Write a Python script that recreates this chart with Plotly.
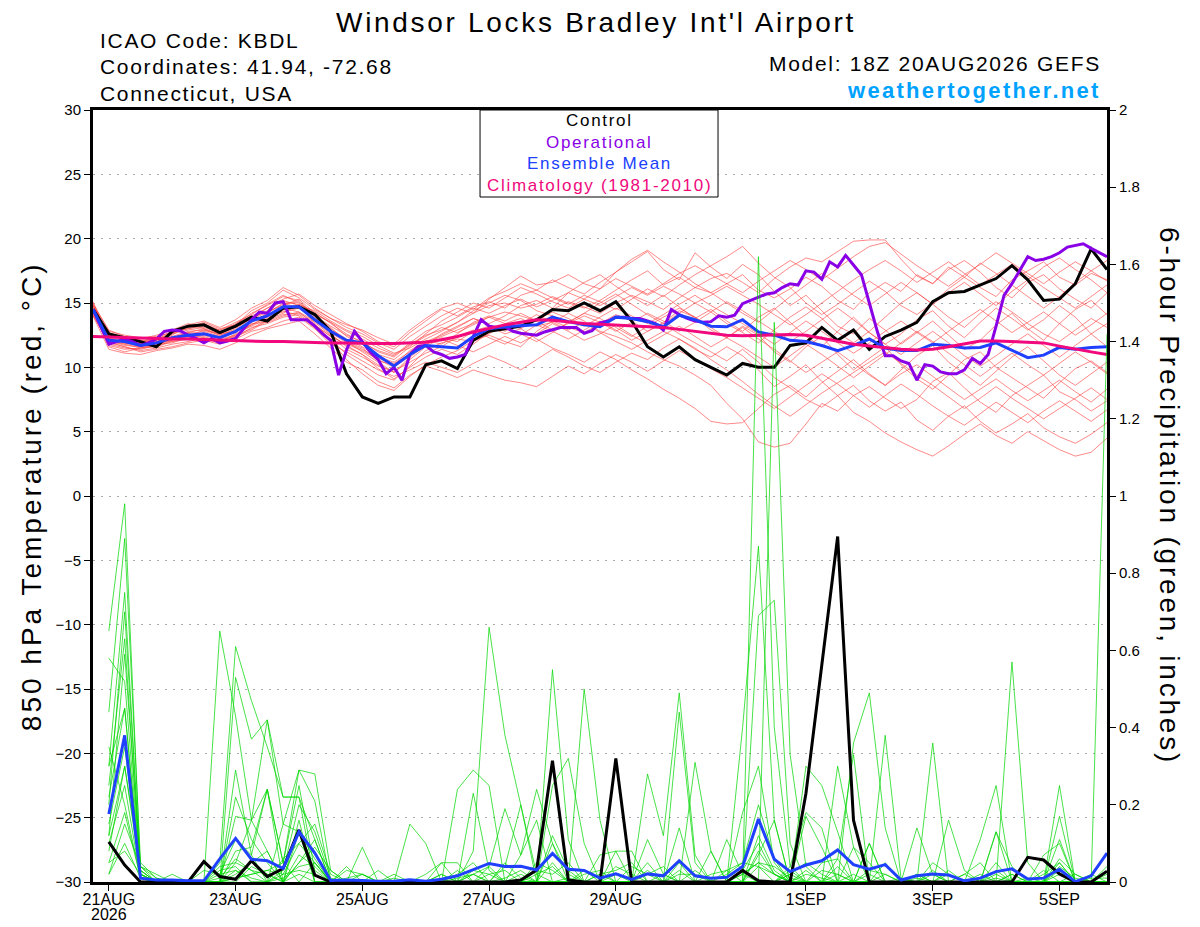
import pandas as pd
import plotly.graph_objects as go

# time axes: 6-hourly ensemble, 3-hourly operational
t6 = pd.date_range("2026-08-20 18:00", periods=65, freq="6h")
t3 = pd.date_range("2026-08-20 18:00", periods=129, freq="3h")
tp = t6[1:]  # precipitation starts at the first 6h step

tick_dates = ["2026-08-21", "2026-08-23", "2026-08-25", "2026-08-27",
              "2026-08-29", "2026-09-01", "2026-09-03", "2026-09-05"]
tick_text = ["21AUG", "23AUG", "25AUG", "27AUG", "29AUG", "1SEP", "3SEP", "5SEP"]
year_label = "2026"

# 850 hPa temperature (C)
control_t = [14.5, 12.6, 12.3, 12.0, 11.6, 12.8, 13.2, 13.3, 12.7, 13.2,
             13.9, 13.6, 14.6, 14.7, 14.1, 12.8, 9.5, 7.7, 7.2, 7.7,
             7.7, 10.2, 10.5, 9.9, 12.1, 12.8, 13.0, 13.2, 13.7, 14.5,
             14.4, 15.0, 14.4, 15.1, 13.6, 11.6, 10.8, 11.6, 10.6, 10.0,
             9.4, 10.3, 10.0, 10.0, 11.7, 11.9, 13.1, 12.1, 12.9, 11.4,
             12.4, 12.9, 13.5, 15.1, 15.8, 15.9, 16.4, 16.9, 17.9, 16.8,
             15.2, 15.3, 16.5, 19.2, 17.6]
mean_t = [14.5, 12.1, 12.0, 11.7, 11.9, 12.3, 12.5, 12.6, 12.3, 12.8,
          13.6, 14.0, 14.7, 14.7, 13.7, 12.8, 12.1, 11.9, 10.9, 10.1,
          11.0, 11.7, 11.6, 11.5, 12.4, 13.0, 13.15, 13.2, 13.3, 13.9,
          13.55, 13.3, 13.15, 13.9, 13.8, 13.55, 13.15, 14.05, 13.7, 13.2,
          13.15, 13.7, 12.75, 12.5, 12.1, 12.0, 11.7, 11.3, 11.7, 12.2,
          11.5, 11.3, 11.3, 11.8, 11.7, 11.5, 11.55, 11.9, 11.35, 10.75,
          10.95, 11.55, 11.4, 11.55, 11.6]
clim_t = [12.4, 12.35, 12.3, 12.3, 12.25, 12.2, 12.2, 12.15, 12.1, 12.05,
          12.05, 12.0, 12.0, 11.95, 11.95, 11.9, 11.9, 11.85, 11.85, 11.85,
          11.9, 11.95, 12.15, 12.4, 12.75, 13.05, 13.3, 13.5, 13.7, 13.65,
          13.5, 13.4, 13.35, 13.3, 13.25, 13.2, 13.1, 12.95, 12.8, 12.6,
          12.5, 12.45, 12.5, 12.55, 12.55, 12.5, 12.25, 12.0, 11.8, 11.65,
          11.5, 11.4, 11.35, 11.4, 11.6, 11.85, 12.05, 12.05, 12.0, 11.95,
          11.9, 11.65, 11.4, 11.2, 11.0]
oper_t = [14.5, 13.2, 11.8, 12.0, 12.2, 12.0, 11.7, 11.9, 12.2, 12.8,
          12.9, 12.85, 12.5, 12.25, 11.9, 12.25, 11.9, 12.05, 12.25, 13.0,
          13.7, 14.3, 14.2, 15.0, 15.1, 13.7, 13.7, 13.7, 13.2, 12.6,
          12.1, 9.4, 11.35, 12.8, 12.0, 11.2, 10.6, 9.5, 10.0, 9.0,
          11.0, 11.6, 11.7, 11.2, 11.0, 10.7, 10.8, 11.0, 12.4, 13.7,
          13.2, 13.1, 13.15, 12.8, 12.65, 12.6, 12.5, 12.75, 12.95, 13.1,
          13.1, 13.1, 12.65, 12.85, 13.45, 13.6, 13.9, 13.9, 13.8, 13.8,
          13.6, 13.4, 12.9, 14.5, 14.1, 13.8, 13.6, 13.5, 13.55, 14.0,
          13.9, 14.05, 14.95, 15.2, 15.5, 15.7, 15.8, 16.2, 16.5, 16.4,
          17.5, 17.4, 16.85, 18.2, 17.8, 18.7, 17.95, 17.2, 15.0, 12.8,
          10.9, 10.9, 10.5, 10.3, 9.0, 10.2, 10.1, 9.65, 9.5, 9.5,
          9.8, 10.7, 10.3, 11.0, 13.2, 15.6, 16.5, 17.55, 18.6, 18.3,
          18.4, 18.6, 18.9, 19.35, 19.45, 19.6, 19.25, 18.9, 18.6]

# ensemble members, temperature
t01 = [14.8, 12.5, 12.2, 12.0, 12.3, 12.8, 13.0, 13.2, 12.9, 13.3, 14.2, 14.8, 15.5, 15.2, 14.0, 13.2, 12.5, 12.0, 11.2, 10.8,
       11.8, 12.5, 12.9, 13.5, 14.2, 14.8, 15.0, 14.6, 14.9, 15.5, 15.0, 14.6, 15.2, 16.0, 16.8, 17.5, 16.4, 17.0, 16.2, 15.8,
       16.5, 17.2, 16.0, 15.4, 16.1, 17.0, 16.3, 15.2, 14.5, 15.8, 16.6, 15.9, 17.2, 16.5, 17.8, 17.0, 16.2, 15.5, 16.8, 17.5,
       18.2, 17.0, 16.4, 17.3, 16.8]
t02 = [14.2, 11.8, 11.5, 11.4, 11.7, 12.2, 12.6, 12.4, 12.0, 12.6, 13.2, 13.8, 14.4, 14.0, 13.1, 12.2, 11.0, 10.2, 9.4, 9.0,
       10.1, 11.3, 11.9, 12.2, 12.0, 12.6, 13.4, 13.8, 13.2, 13.5, 14.2, 13.6, 12.8, 12.4, 11.9, 11.2, 10.6, 10.1, 9.4, 8.6,
       7.2, 6.0, 4.2, 3.8, 4.1, 5.6, 7.2, 6.6, 7.8, 8.5, 7.6, 6.8, 7.5, 8.9, 9.6, 8.4, 7.3, 6.5, 7.8, 8.6,
       9.4, 8.1, 7.5, 6.6, 7.4]
t03 = [14.9, 12.9, 12.4, 12.1, 12.0, 12.5, 13.3, 13.6, 13.1, 13.7, 14.6, 15.2, 16.2, 15.6, 14.6, 13.8, 13.1, 12.6, 11.9, 11.4,
       12.4, 13.2, 14.0, 14.6, 14.2, 15.3, 16.2, 17.1, 16.4, 16.6, 17.2, 16.5, 16.1, 17.4, 18.2, 19.0, 17.6, 16.8, 18.9, 17.8,
       16.9, 18.0, 17.2, 15.9, 14.8, 15.6, 14.4, 13.2, 12.6, 13.8, 12.9, 11.8, 12.7, 13.6, 12.5, 11.4, 12.1, 13.3, 14.2, 13.0,
       12.1, 13.4, 14.5, 15.2, 14.1]
t04 = [14.4, 11.6, 11.2, 11.5, 11.8, 11.9, 12.3, 12.7, 12.2, 12.5, 13.0, 13.7, 14.2, 14.9, 13.4, 12.1, 10.6, 9.5, 8.6, 8.2,
       9.3, 10.2, 10.8, 11.3, 12.1, 12.5, 12.0, 11.6, 12.8, 13.6, 13.1, 12.7, 13.4, 14.1, 13.6, 12.8, 13.5, 14.4, 13.9, 12.9,
       12.3, 13.2, 12.5, 11.2, 10.4, 11.6, 12.4, 11.0, 9.8, 10.7, 11.6, 10.2, 9.1, 8.3, 9.4, 10.6, 11.2, 10.0, 9.2, 8.4,
       7.6, 8.8, 9.9, 10.5, 9.6]
t05 = [15.1, 12.3, 11.9, 11.8, 12.0, 12.4, 12.8, 12.9, 12.6, 13.1, 13.9, 14.3, 14.8, 15.3, 14.2, 13.5, 12.8, 12.2, 11.5, 11.0,
       11.7, 12.4, 13.1, 12.7, 13.3, 13.9, 14.3, 14.0, 13.6, 14.5, 15.1, 14.7, 14.2, 15.0, 15.6, 15.1, 14.5, 15.4, 16.2, 16.9,
       17.3, 16.6, 15.8, 16.9, 17.8, 18.5, 18.2, 19.0, 19.8, 19.9, 19.9, 18.4, 17.1, 16.5, 17.6, 18.3, 17.4, 16.2, 15.4, 16.6,
       17.2, 16.1, 15.3, 14.6, 15.8]
t06 = [14.0, 12.0, 11.6, 11.2, 11.4, 11.6, 11.9, 12.1, 11.8, 12.2, 12.8, 13.1, 13.6, 13.9, 13.0, 11.8, 11.2, 10.5, 9.8, 9.3,
       9.8, 10.4, 10.0, 9.6, 10.3, 10.9, 10.4, 9.8, 10.6, 11.4, 10.8, 10.1, 9.6, 10.4, 11.1, 10.6, 11.5, 12.2, 11.4, 10.8,
       11.6, 10.9, 9.8, 8.5, 9.3, 10.2, 8.9, 7.8, 8.6, 7.4, 6.6, 7.3, 5.9, 5.1, 6.2, 7.0, 5.8, 4.9, 5.6, 6.4,
       5.3, 4.6, 4.1, 4.8, 5.7]
t07 = [14.6, 12.4, 12.0, 11.7, 11.6, 12.1, 12.4, 12.9, 12.5, 12.9, 13.5, 14.2, 15.0, 14.6, 13.9, 13.0, 12.2, 11.6, 10.8, 10.4,
       11.2, 12.0, 12.5, 13.1, 13.8, 13.4, 14.0, 14.8, 15.2, 14.6, 15.8, 16.6, 17.2, 16.3, 15.5, 14.8, 15.6, 14.7, 13.8, 14.5,
       13.6, 12.8, 13.9, 14.6, 13.5, 12.4, 11.6, 12.8, 13.9, 12.7, 11.8, 12.6, 13.7, 14.4, 13.2, 12.3, 13.5, 14.6, 13.8, 12.9,
       13.7, 14.8, 13.9, 12.6, 13.4]
t08 = [14.3, 12.2, 11.8, 11.9, 12.2, 12.0, 12.2, 12.5, 12.1, 12.4, 13.4, 13.5, 14.0, 14.3, 13.6, 12.6, 11.6, 11.0, 10.2, 9.6,
       10.6, 11.6, 12.3, 12.0, 12.8, 13.2, 12.6, 13.0, 12.2, 11.5, 11.0, 10.4, 11.2, 10.6, 9.8, 9.1, 8.3, 7.6, 6.8, 5.8,
       5.6, 5.7, 6.8, 7.9, 8.6, 7.7, 8.8, 9.7, 10.6, 9.5, 8.6, 9.8, 10.9, 11.7, 10.4, 9.5, 8.6, 9.7, 10.8, 11.6,
       10.5, 9.4, 8.6, 9.5, 10.4]
t09 = [14.7, 12.7, 12.3, 11.9, 12.1, 12.6, 12.9, 13.1, 12.7, 13.4, 14.0, 14.6, 15.3, 15.7, 14.8, 14.1, 13.4, 12.8, 12.0, 11.6,
       12.7, 13.6, 14.5, 14.0, 14.7, 15.1, 14.6, 15.6, 16.0, 15.4, 14.9, 15.6, 15.1, 14.5, 15.3, 16.1, 15.5, 16.4, 17.2, 17.9,
       18.6, 19.4, 18.1, 17.0, 16.2, 15.0, 14.1, 14.9, 15.8, 16.7, 15.9, 14.8, 14.1, 15.0, 16.1, 17.0, 18.1, 17.3, 16.4, 15.5,
       14.6, 15.5, 16.6, 17.5, 18.3]
t10 = [14.1, 11.9, 11.6, 11.3, 11.5, 11.8, 12.0, 12.3, 11.9, 12.3, 13.1, 13.4, 13.9, 14.1, 13.3, 12.4, 11.4, 10.8, 10.1, 9.7,
       10.4, 11.1, 11.6, 12.4, 12.9, 12.3, 11.8, 12.5, 13.3, 12.8, 12.2, 12.9, 13.6, 12.9, 12.1, 12.8, 13.4, 12.6, 11.9, 11.2,
       10.5, 11.4, 10.4, 9.2, 8.4, 7.5, 6.9, 7.8, 6.5, 5.8, 4.9, 4.2, 3.6, 3.1, 3.9, 4.8, 5.6, 4.7, 4.1, 5.0,
       4.3, 3.6, 3.1, 3.4, 4.5]
t11 = [14.5, 12.6, 12.1, 12.2, 12.5, 12.9, 13.4, 13.0, 12.6, 12.8, 13.3, 14.0, 14.5, 14.8, 14.4, 13.6, 12.9, 12.4, 11.7, 11.1,
       11.5, 12.2, 12.8, 13.5, 14.4, 15.0, 15.6, 15.2, 14.4, 14.0, 13.5, 14.2, 15.0, 15.7, 14.9, 14.1, 13.4, 14.2, 15.0, 14.3,
       13.4, 12.7, 11.9, 12.9, 13.9, 14.7, 13.8, 12.7, 11.9, 12.8, 13.9, 15.0, 15.8, 14.9, 13.9, 13.1, 14.2, 15.1, 14.3, 13.4,
       12.6, 12.0, 12.9, 13.8, 13.1]
t12 = [14.4, 12.1, 11.7, 11.6, 11.9, 12.3, 12.7, 12.6, 12.3, 12.7, 13.6, 14.1, 14.6, 14.3, 13.3, 12.4, 11.8, 11.3, 10.6, 10.0,
       10.9, 11.8, 12.2, 11.7, 11.2, 11.8, 12.4, 11.9, 12.6, 13.4, 12.8, 12.1, 12.6, 13.3, 12.5, 11.8, 12.5, 13.2, 12.4, 11.6,
       12.3, 13.1, 12.2, 11.4, 10.5, 9.6, 10.4, 11.2, 10.3, 9.4, 8.6, 9.5, 10.2, 9.3, 8.4, 7.5, 8.3, 9.1, 8.2, 7.4,
       8.2, 9.0, 8.1, 7.3, 8.3]
t13 = [15.0, 12.8, 12.5, 12.3, 12.4, 12.7, 13.1, 13.5, 13.0, 13.3, 14.4, 15.0, 16.0, 15.4, 14.5, 13.8, 13.3, 12.9, 12.3, 11.8,
       12.9, 13.8, 14.6, 15.0, 14.5, 15.4, 15.9, 16.5, 16.0, 16.8, 16.2, 15.7, 16.6, 17.4, 18.4, 19.1, 18.2, 17.4, 16.5, 15.8,
       15.0, 14.2, 13.5, 14.5, 15.5, 16.4, 17.3, 16.5, 15.6, 14.8, 15.7, 16.6, 15.8, 14.9, 15.8, 16.6, 15.7, 14.8, 15.9, 16.8,
       17.8, 18.5, 17.6, 16.8, 15.8]
t14 = [14.2, 12.3, 11.9, 11.6, 11.8, 12.1, 12.5, 12.3, 12.0, 12.5, 13.3, 13.9, 14.3, 14.6, 13.7, 12.9, 12.0, 11.5, 10.5, 10.2,
       11.3, 12.1, 11.8, 12.6, 13.5, 14.0, 13.6, 14.2, 13.6, 12.9, 13.4, 14.0, 13.5, 12.8, 13.5, 14.2, 13.6, 12.8, 13.5, 14.3,
       15.1, 14.4, 13.6, 12.8, 12.0, 12.8, 13.7, 14.6, 13.7, 12.7, 11.8, 11.0, 11.9, 12.8, 11.9, 10.9, 10.1, 10.9, 11.8, 12.6,
       11.7, 10.8, 11.7, 12.6, 11.6]
t15 = [14.6, 12.2, 11.9, 11.8, 11.9, 12.2, 12.6, 12.8, 12.4, 12.8, 13.7, 14.3, 14.9, 15.1, 14.0, 13.1, 12.0, 11.2, 10.4, 9.6,
       10.8, 11.7, 12.6, 13.2, 13.8, 13.3, 12.8, 13.4, 14.1, 13.5, 12.9, 13.5, 12.7, 12.0, 11.4, 12.1, 12.8, 12.2, 11.5, 10.6,
       9.8, 8.9, 7.9, 7.0, 6.2, 7.1, 8.0, 8.8, 9.6, 10.4, 11.2, 10.3, 9.4, 8.6, 7.7, 6.8, 7.6, 8.5, 7.6, 6.8,
       6.0, 6.8, 7.6, 8.4, 7.5]
t16 = [14.8, 12.6, 12.0, 11.8, 12.2, 12.7, 13.0, 13.3, 12.8, 13.1, 13.8, 14.6, 15.1, 14.9, 14.3, 13.4, 12.6, 11.9, 11.3, 10.9,
       11.9, 12.8, 13.3, 13.9, 14.6, 14.2, 14.8, 15.3, 14.7, 15.2, 15.8, 15.3, 14.8, 15.5, 16.2, 15.6, 16.3, 15.7, 15.0, 15.6,
       16.3, 15.6, 14.9, 14.1, 13.3, 14.1, 15.0, 15.9, 16.8, 17.6, 18.3, 17.5, 16.6, 17.4, 18.2, 17.3, 16.4, 17.2, 18.0, 17.1,
       16.2, 15.4, 14.6, 15.5, 16.4]
t17 = [14.3, 11.7, 11.4, 11.5, 11.6, 12.0, 12.4, 12.2, 11.9, 12.4, 12.9, 13.6, 14.1, 14.2, 13.5, 12.5, 11.7, 11.0, 9.9, 9.1,
       10.0, 10.8, 11.4, 11.0, 11.8, 12.7, 13.2, 12.6, 12.0, 12.7, 13.5, 14.2, 13.8, 13.1, 12.4, 13.2, 13.9, 14.6, 13.9, 13.1,
       12.3, 11.6, 10.8, 10.0, 10.9, 11.8, 11.0, 10.1, 9.2, 10.1, 11.0, 11.9, 12.8, 12.0, 11.1, 10.2, 9.3, 10.2, 11.1, 10.2,
       9.4, 10.3, 11.2, 10.4, 9.5]
t18 = [14.9, 12.4, 12.3, 12.0, 12.2, 12.6, 13.2, 13.4, 12.9, 13.5, 14.1, 14.9, 15.6, 15.0, 14.1, 13.5, 12.4, 11.8, 11.0, 10.6,
       11.6, 12.6, 13.6, 14.3, 15.0, 14.6, 15.4, 16.2, 15.7, 15.1, 14.6, 15.3, 16.1, 16.9, 16.3, 15.7, 16.5, 17.3, 17.9, 17.2,
       16.5, 15.8, 16.7, 17.5, 18.3, 17.6, 16.8, 17.7, 18.6, 19.4, 19.7, 18.8, 17.9, 17.1, 16.3, 17.2, 18.0, 18.9, 18.1, 17.3,
       16.5, 17.4, 18.2, 17.5, 16.7]
t19 = [14.0, 11.4, 11.1, 11.0, 11.3, 11.5, 11.8, 11.7, 11.4, 11.9, 12.5, 13.0, 13.3, 13.6, 12.6, 11.5, 10.4, 9.8, 8.9, 8.4,
       9.4, 10.1, 9.7, 9.2, 9.8, 9.4, 9.0, 8.8, 8.5, 9.3, 10.1, 9.5, 10.3, 11.0, 10.4, 9.7, 10.5, 11.3, 10.6, 9.9,
       9.2, 8.4, 7.6, 6.8, 7.7, 8.6, 9.5, 8.7, 7.8, 6.9, 7.8, 8.7, 7.9, 7.0, 6.2, 5.5, 6.4, 7.3, 6.5, 5.7,
       6.6, 7.4, 6.6, 5.8, 6.7]
t20 = [14.5, 12.0, 11.8, 11.5, 11.7, 12.3, 12.7, 13.0, 12.5, 13.0, 13.8, 14.4, 15.2, 14.8, 13.8, 12.7, 11.9, 11.4, 10.7, 10.3,
       11.0, 11.9, 12.4, 12.9, 13.4, 13.9, 13.4, 13.0, 13.7, 14.3, 13.8, 13.2, 13.9, 14.6, 14.0, 13.4, 14.1, 14.9, 15.6, 14.8,
       14.1, 13.4, 12.6, 11.8, 12.7, 13.6, 12.8, 11.9, 11.1, 11.9, 12.8, 13.6, 12.7, 11.9, 12.8, 13.7, 14.5, 13.6, 12.7, 13.5,
       14.3, 13.4, 12.5, 13.3, 14.2]
temp_members = [t01, t02, t03, t04, t05, t06, t07, t08, t09, t10,
                t11, t12, t13, t14, t15, t16, t17, t18, t19, t20]

# 6-hour precipitation (inches), from 21AUG 00Z
control_p = [0.104, 0.044, 0, 0, 0, 0, 0.053, 0.014, 0.007, 0.055, 0.014, 0.035, 0.135, 0.018, 0, 0,
             0, 0, 0, 0, 0, 0, 0, 0, 0, 0, 0.005, 0.031, 0.314, 0.005, 0, 0,
             0.32, 0, 0, 0, 0, 0, 0, 0, 0.03, 0.003, 0, 0, 0.23, 0.56, 0.895, 0.16,
             0, 0, 0, 0, 0, 0, 0, 0, 0, 0, 0.064, 0.057, 0.021, 0, 0, 0.028]
mean_p = [0.176, 0.38, 0.01, 0.005, 0.005, 0.003, 0.003, 0.06, 0.113, 0.059, 0.055, 0.035, 0.13, 0.075, 0.004, 0.005,
          0.004, 0.002, 0.002, 0.006, 0.002, 0.007, 0.016, 0.031, 0.048, 0.04, 0.041, 0.031, 0.074, 0.033, 0.03, 0.01,
          0.021, 0.007, 0.021, 0.016, 0.055, 0.016, 0.01, 0.012, 0.04, 0.163, 0.059, 0.027, 0.044, 0.055, 0.083, 0.045,
          0.033, 0.045, 0.005, 0.016, 0.021, 0.018, 0.003, 0.01, 0.027, 0.034, 0.008, 0.01, 0.033, 0.001, 0.016, 0.075]

p01 = [0.65, 0.98, 0.03, 0, 0, 0, 0, 0.05, 0.61, 0.47, 0.35, 0.22, 0.22, 0.11, 0, 0,
       0, 0, 0, 0, 0, 0, 0, 0.08, 0.66, 0.38, 0.2, 0, 0, 0, 0, 0,
       0, 0, 0, 0, 0.14, 0, 0, 0, 0, 1.62, 0.4, 0.04, 0, 0, 0, 0,
       0, 0, 0, 0, 0, 0, 0, 0, 0.13, 0, 0, 0, 0, 0, 0, 0.04]
p02 = [0.44, 0.89, 0.05, 0.01, 0, 0, 0, 0, 0.53, 0.37, 0.42, 0.15, 0.29, 0.28, 0.03, 0,
       0, 0, 0, 0, 0, 0, 0, 0, 0, 0, 0, 0, 0.55, 0.11, 0, 0,
       0, 0, 0, 0, 0, 0, 0, 0, 0.4, 0.87, 0.16, 0, 0, 0, 0, 0,
       0.1, 0, 0, 0, 0, 0, 0, 0, 0, 0.57, 0.05, 0, 0, 0, 0, 0]
p03 = [0.3, 0.75, 0.02, 0, 0, 0, 0, 0.65, 0.43, 0.16, 0.08, 0, 0.16, 0, 0, 0,
       0, 0, 0, 0, 0, 0, 0.24, 0.29, 0.25, 0, 0, 0, 0, 0, 0.5, 0.16,
       0, 0, 0, 0, 0, 0, 0, 0, 0, 0, 1.45, 0.33, 0.04, 0, 0, 0,
       0, 0, 0, 0, 0.36, 0, 0, 0, 0, 0, 0, 0, 0.25, 0, 0, 0]
p04 = [0.25, 0.63, 0.01, 0, 0, 0, 0, 0, 0.29, 0.07, 0.24, 0.05, 0.29, 0.21, 0, 0,
       0.09, 0, 0, 0, 0, 0, 0, 0, 0, 0, 0, 0, 0, 0, 0, 0,
       0, 0, 0.28, 0.12, 0.49, 0.07, 0, 0, 0, 0.69, 0.73, 0.1, 0, 0, 0.3, 0.09,
       0, 0, 0, 0, 0, 0, 0, 0, 0, 0, 0, 0, 0, 0, 0, 1.42]
p05 = [0.12, 0.59, 0.04, 0, 0, 0, 0, 0, 0.17, 0.16, 0.42, 0.22, 0.22, 0, 0, 0,
       0, 0, 0, 0.15, 0.1, 0, 0, 0, 0.04, 0.19, 0.07, 0.16, 0, 0, 0, 0,
       0, 0, 0, 0, 0, 0.31, 0.08, 0, 0, 0, 0, 0, 0.3, 0.25, 0.13, 0,
       0, 0.38, 0.01, 0, 0, 0, 0, 0.11, 0.25, 0, 0, 0, 0, 0, 0, 0]
p06 = [0.58, 0.52, 0.02, 0, 0, 0, 0.03, 0.02, 0.11, 0.07, 0, 0.15, 0.13, 0, 0, 0.04,
       0, 0, 0, 0, 0, 0, 0, 0.23, 0.03, 0, 0, 0, 0.25, 0.32, 0.1, 0,
       0, 0, 0, 0, 0, 0, 0, 0, 0.18, 0.3, 0.05, 0, 0, 0, 0, 0.36,
       0.49, 0.14, 0, 0, 0, 0.16, 0.03, 0, 0, 0, 0, 0, 0.17, 0, 0, 0]
p07 = [0.22, 0.45, 0.01, 0, 0, 0, 0, 0, 0.08, 0.09, 0.24, 0, 0.05, 0.11, 0, 0,
       0, 0, 0, 0, 0, 0.05, 0.05, 0, 0, 0, 0.07, 0.24, 0.1, 0, 0, 0,
       0.08, 0.08, 0, 0, 0, 0, 0, 0.11, 0.02, 0, 0, 0.04, 0.18, 0.14, 0, 0,
       0, 0, 0, 0.14, 0.02, 0, 0, 0, 0, 0, 0, 0.07, 0.1, 0, 0, 0]
p08 = [0.15, 0.35, 0.03, 0, 0.02, 0, 0, 0.04, 0.05, 0.16, 0.24, 0.05, 0, 0.05, 0, 0,
       0, 0, 0.02, 0, 0, 0, 0, 0, 0, 0.04, 0.2, 0.02, 0, 0, 0, 0.07,
       0.08, 0, 0, 0, 0.44, 0.05, 0, 0, 0, 0.07, 0.16, 0, 0, 0, 0.06, 0.33,
       0, 0, 0, 0, 0, 0, 0, 0, 0.13, 0.04, 0, 0, 0, 0, 0.02, 0]
p09 = [0.08, 0.3, 0.02, 0, 0, 0, 0, 0, 0.02, 0.05, 0.08, 0, 0.13, 0.06, 0, 0,
       0, 0.03, 0, 0, 0, 0, 0, 0.02, 0.04, 0, 0, 0, 0.12, 0.03, 0, 0,
       0, 0, 0.11, 0.02, 0, 0, 0.08, 0, 0, 0.08, 0.02, 0, 0.17, 0.09, 0, 0,
       0.1, 0, 0, 0, 0.05, 0.02, 0, 0, 0, 0, 0, 0, 0.11, 0, 0, 0.02]
p10 = [0.05, 0.18, 0.01, 0, 0, 0, 0, 0.02, 0.03, 0, 0, 0.02, 0.03, 0.02, 0, 0.03,
       0.02, 0, 0, 0, 0, 0.02, 0, 0, 0, 0.01, 0.03, 0, 0, 0, 0, 0.02,
       0.03, 0.05, 0, 0, 0.02, 0.02, 0, 0, 0.02, 0.05, 0.04, 0.01, 0, 0, 0.02, 0,
       0, 0, 0, 0.02, 0, 0, 0, 0, 0.02, 0, 0, 0, 0.04, 0.01, 0, 0]
p11 = [0.02, 0.15, 0.04, 0.02, 0, 0, 0, 0, 0.01, 0.02, 0.03, 0.02, 0.1, 0.15, 0.02, 0,
       0, 0, 0, 0, 0.02, 0.05, 0, 0, 0, 0, 0, 0.03, 0.02, 0.05, 0, 0,
       0, 0, 0.02, 0.04, 0, 0, 0, 0, 0, 0, 0, 0.02, 0.05, 0.02, 0, 0,
       0.03, 0.02, 0, 0, 0, 0, 0.02, 0.05, 0, 0, 0, 0, 0.06, 0.02, 0, 0]
p12 = [0.3, 0.45, 0.02, 0, 0, 0, 0, 0, 0.22, 0.11, 0.05, 0, 0.05, 0.09, 0.03, 0,
       0, 0, 0, 0, 0, 0, 0.02, 0.05, 0, 0, 0, 0, 0.1, 0.02, 0, 0,
       0.04, 0.02, 0, 0, 0.05, 0, 0, 0.03, 0.05, 0.2, 0.06, 0, 0, 0.05, 0.06, 0,
       0, 0.02, 0, 0, 0.03, 0, 0, 0, 0, 0.02, 0, 0.02, 0.05, 0, 0, 0]
p13 = [0.1, 0.25, 0.01, 0, 0, 0, 0, 0.01, 0.06, 0.03, 0, 0.03, 0.2, 0.13, 0.01, 0,
       0, 0, 0, 0, 0, 0, 0, 0.03, 0.02, 0, 0, 0.05, 0.03, 0, 0.02, 0.03,
       0, 0, 0, 0, 0, 0.03, 0, 0, 0, 0.04, 0.02, 0, 0.03, 0, 0, 0.09,
       0.05, 0, 0, 0.02, 0, 0, 0, 0, 0.05, 0, 0, 0, 0.03, 0, 0, 0]
p14 = [0.2, 0.7, 0.03, 0, 0, 0, 0, 0, 0.01, 0.02, 0.03, 0.05, 0.25, 0.03, 0, 0,
       0.02, 0, 0, 0, 0, 0, 0, 0, 0.02, 0.03, 0, 0, 0, 0.01, 0, 0,
       0, 0, 0.05, 0, 0, 0, 0, 0, 0, 0.12, 0.03, 0, 0, 0.03, 0.02, 0,
       0, 0.05, 0, 0, 0, 0.02, 0, 0, 0.03, 0, 0, 0, 0, 0.02, 0, 0]
p15 = [0.05, 0.08, 0.02, 0, 0, 0, 0, 0.03, 0.04, 0, 0, 0.01, 0.04, 0.05, 0, 0,
       0, 0, 0.01, 0, 0, 0, 0.01, 0.02, 0, 0, 0.02, 0, 0, 0, 0.03, 0,
       0, 0, 0, 0.02, 0, 0, 0.02, 0.03, 0, 0, 0, 0.02, 0, 0, 0, 0.02,
       0, 0, 0.01, 0, 0, 0, 0, 0.02, 0, 0, 0.01, 0, 0, 0, 0, 0]
p16 = [0.35, 0.2, 0.01, 0, 0, 0, 0, 0, 0, 0.04, 0.02, 0, 0.07, 0.04, 0, 0,
       0, 0, 0, 0, 0, 0.02, 0, 0, 0, 0.05, 0.01, 0, 0, 0, 0, 0.02,
       0, 0.04, 0.02, 0, 0, 0, 0, 0, 0.03, 0.1, 0.02, 0, 0, 0, 0.04, 0,
       0, 0, 0, 0.01, 0, 0, 0.02, 0, 0, 0, 0, 0.03, 0, 0, 0.01, 0.01]
p17 = [0.02, 0.1, 0.01, 0, 0, 0, 0, 0, 0.05, 0.03, 0.02, 0, 0.02, 0, 0, 0.01,
       0.02, 0, 0, 0, 0, 0, 0, 0.02, 0, 0, 0, 0, 0.05, 0, 0, 0,
       0.02, 0, 0, 0, 0.03, 0, 0, 0, 0.02, 0.05, 0.02, 0, 0.02, 0.01, 0, 0,
       0, 0, 0, 0, 0.02, 0, 0, 0, 0.01, 0, 0, 0, 0.02, 0, 0, 0]
p18 = [0.12, 0.3, 0.04, 0.01, 0, 0, 0, 0, 0.03, 0.01, 0, 0.06, 0.1, 0.05, 0, 0,
       0, 0, 0, 0, 0, 0, 0.03, 0, 0, 0, 0, 0.02, 0.04, 0, 0, 0,
       0, 0, 0.03, 0, 0, 0, 0, 0.02, 0.05, 0.04, 0, 0.03, 0, 0, 0, 0,
       0.02, 0, 0, 0, 0, 0.03, 0, 0, 0, 0.02, 0, 0, 0.05, 0, 0, 0]
precip_members = [p01, p02, p03, p04, p05, p06, p07, p08, p09,
                  p10, p11, p12, p13, p14, p15, p16, p17, p18]

FONT = "Liberation Sans, Arial, Helvetica, sans-serif"
C_RED = "rgba(255,70,70,0.8)"
C_GREEN = "rgba(0,215,0,0.9)"
C_OPER = "#8a00e6"
C_MEAN = "#2040ff"
C_CLIM = "#f0087c"


def spaced(text, px):
    # the original chart font is set with wide letter spacing
    return '<span style="letter-spacing:%spx">%s</span>' % (px, text)


fig = go.Figure()

for m in temp_members:
    fig.add_trace(go.Scatter(x=t6, y=m, mode="lines", line=dict(color=C_RED, width=0.8),
                             showlegend=False, hoverinfo="skip"))
for m in precip_members:
    fig.add_trace(go.Scatter(x=tp, y=m, mode="lines", yaxis="y2",
                             line=dict(color=C_GREEN, width=0.8),
                             showlegend=False, hoverinfo="skip"))

fig.add_trace(go.Scatter(x=t6, y=control_t, mode="lines", line=dict(color="black", width=3)))
fig.add_trace(go.Scatter(x=t3, y=oper_t, mode="lines", line=dict(color=C_OPER, width=3)))
fig.add_trace(go.Scatter(x=t6, y=mean_t, mode="lines", line=dict(color=C_MEAN, width=3)))
fig.add_trace(go.Scatter(x=t6, y=clim_t, mode="lines", line=dict(color=C_CLIM, width=3)))
fig.add_trace(go.Scatter(x=tp, y=control_p, mode="lines", yaxis="y2",
                         line=dict(color="black", width=3)))
fig.add_trace(go.Scatter(x=tp, y=mean_p, mode="lines", yaxis="y2",
                         line=dict(color=C_MEAN, width=3)))

# legend box
fig.add_shape(type="rect", xref="paper", yref="paper", x0=0.3817, x1=0.6164, y0=0.8873, y1=1.0,
              line=dict(color="black", width=1), fillcolor="white", layer="above")
leg = [("Control", "black", 0.9858), ("Operational", C_OPER, 0.9585),
       ("Ensemble Mean", C_MEAN, 0.9313), ("Climatology (1981-2010)", C_CLIM, 0.9028)]
for txt, col, yy in leg:
    fig.add_annotation(x=0.4995, y=yy, xref="paper", yref="paper", text=spaced(txt, 1.7),
                       showarrow=False, xanchor="center", yanchor="middle",
                       font=dict(family=FONT, size=17, color=col))

# header texts
fig.add_annotation(x=0.496, y=1.113, xref="paper", yref="paper", showarrow=False,
                   xanchor="center", yanchor="middle",
                   text=spaced("Windsor Locks Bradley Int'l Airport", 2.7),
                   font=dict(family=FONT, size=28, color="black"))
for txt, yy in [("ICAO Code: KBDL", 1.0894), ("Coordinates: 41.94, -72.68", 1.0557),
                ("Connecticut, USA", 1.022)]:
    fig.add_annotation(x=0.0049, y=yy, xref="paper", yref="paper", showarrow=False,
                       xanchor="left", yanchor="middle",
                       text=spaced(txt, 1.7), font=dict(family=FONT, size=21, color="black"))
fig.add_annotation(x=0.9958, y=1.0596, xref="paper", yref="paper", showarrow=False,
                   xanchor="right", yanchor="middle",
                   text=spaced("Model: 18Z 20AUG2026 GEFS", 1.7),
                   font=dict(family=FONT, size=21, color="black"))
fig.add_annotation(x=0.9965, y=1.0259, xref="paper", yref="paper", showarrow=False,
                   xanchor="right", yanchor="middle",
                   text=spaced("<b>weathertogether.net</b>", 2.3),
                   font=dict(family=FONT, size=22, color="#00a2ff"))

# year under the first date tick
fig.add_annotation(x=pd.Timestamp(tick_dates[0]), y=-0.0418, xref="x", yref="paper",
                   showarrow=False, xanchor="center", yanchor="middle",
                   text=year_label, font=dict(family=FONT, size=16, color="black"))

# axis titles
fig.add_annotation(x=-0.061, y=0.5, xref="paper", yref="paper", showarrow=False,
                   xanchor="center", yanchor="middle", textangle=-90,
                   text=spaced("850 hPa Temperature (red, °C)", 3.0),
                   font=dict(family=FONT, size=28, color="black"))
fig.add_annotation(x=1.0621, y=0.5, xref="paper", yref="paper", showarrow=False,
                   xanchor="center", yanchor="middle", textangle=90,
                   text=spaced("6-hour Precipitation (green, inches)", 2.8),
                   font=dict(family=FONT, size=28, color="black"))

fig.update_layout(
    width=1184, height=919,
    margin=dict(l=85, r=85, t=102, b=45, autoexpand=False),
    paper_bgcolor="white", plot_bgcolor="white",
    showlegend=False, hovermode=False,
    font=dict(family=FONT, color="black"),
    xaxis=dict(type="date", range=[t6[0], t6[-1]], automargin=False,
               tickvals=pd.to_datetime(tick_dates), ticktext=tick_text,
               ticks="outside", ticklen=6, tickwidth=1, tickcolor="black",
               ticklabelstandoff=-5,
               showline=True, linewidth=3, linecolor="black", mirror=True,
               showgrid=False, zeroline=False, tickfont=dict(size=16)),
    yaxis=dict(range=[-30, 30], tick0=-30, dtick=5, automargin=False,
               ticks="outside", ticklen=6, tickwidth=1, tickcolor="black",
               showline=True, linewidth=3, linecolor="black", mirror=True,
               showgrid=True, gridcolor="#a8a8a8", griddash="2px,6px", gridwidth=1,
               zeroline=False, tickfont=dict(size=15)),
    yaxis2=dict(range=[0, 2], tick0=0, dtick=0.2, overlaying="y", side="right", automargin=False,
                ticks="outside", ticklen=6, tickwidth=1, tickcolor="black",
                showline=True, linewidth=3, linecolor="black",
                showgrid=False, zeroline=False, tickfont=dict(size=15)),
)

fig.write_html("out.html")
